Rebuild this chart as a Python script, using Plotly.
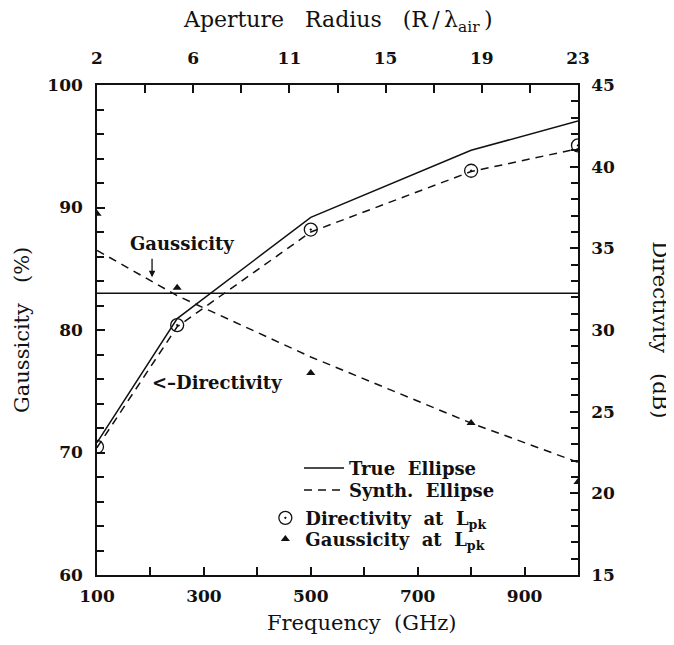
import plotly.graph_objects as go

# Frequency sample points (GHz)
freq = [100, 250, 500, 800, 1000]

# Directivity (dB, right axis)
dir_true = [23.1, 30.7, 36.9, 41.0, 42.8]
dir_synth = [22.8, 30.2, 36.0, 39.7, 41.1]
dir_lpk = [22.85, 30.3, 36.15, 39.75, 41.3]

# Gaussicity (%, left axis)
gauss_true = [83.0, 83.0, 83.0, 83.0, 83.0]
gauss_synth = [86.5, 82.8, 77.8, 72.4, 69.2]
gauss_lpk = [89.5, 83.45, 76.5, 72.4, 67.6]

# top axis: aperture radius labels and the frequencies where they sit
radius_labels = ["2", "6", "11", "15", "19", "23"]
radius_freq = [100, 280, 460, 640, 820, 1000]

FONT = "DejaVu Serif"
INK = "#111111"
SP = "\u00a0\u00a0"
SP3 = "\u00a0\u00a0\u00a0"

fig = go.Figure()

# Gaussicity lines
fig.add_trace(go.Scatter(
    x=freq, y=gauss_true, mode="lines",
    line=dict(color=INK, width=1.5),
    name="True" + SP + "Ellipse", legend="legend",
))
fig.add_trace(go.Scatter(
    x=freq, y=gauss_synth, mode="lines",
    line=dict(color=INK, width=1.5, dash="8px,6px"),
    name="Synth." + SP + "Ellipse", legend="legend2",
))
# Directivity lines on the right axis
fig.add_trace(go.Scatter(
    x=freq, y=dir_true, mode="lines", yaxis="y2",
    line=dict(color=INK, width=1.5),
    showlegend=False,
))
fig.add_trace(go.Scatter(
    x=freq, y=dir_synth, mode="lines", yaxis="y2",
    line=dict(color=INK, width=1.5, dash="8px,6px"),
    showlegend=False,
))
# markers at L_pk
fig.add_trace(go.Scatter(
    x=freq, y=dir_lpk, mode="markers", yaxis="y2",
    marker=dict(symbol="circle-open-dot", size=13, color=INK,
                line=dict(color=INK, width=1.3)),
    name="Directivity" + SP + "at" + SP + "L<sub>pk</sub>", legend="legend3",
))
fig.add_trace(go.Scatter(
    x=freq, y=gauss_lpk, mode="markers",
    marker=dict(symbol="triangle-up", size=8, color=INK),
    name="Gaussicity" + SP + "at" + SP + "L<sub>pk</sub>", legend="legend4",
))
# dummy trace to activate the top axis
fig.add_trace(go.Scatter(
    x=radius_freq, y=[None] * len(radius_freq), xaxis="x2",
    mode="markers", showlegend=False, hoverinfo="skip",
))

tickfont = dict(family=FONT, size=17, color=INK, weight="bold")
titlefont = dict(family=FONT, size=21, color=INK)
labelfont = dict(family=FONT, size=18, color=INK, weight="bold")
axline = dict(showline=True, linecolor=INK, linewidth=1.5, mirror=False,
              showgrid=False, zeroline=False, ticks="inside", ticklen=8,
              tickcolor=INK, tickwidth=1.5, tickfont=tickfont,
              automargin=False)
legfont = dict(family=FONT, size=18, color=INK, weight="bold")


def leg(x, y, w):
    return dict(x=x, y=y, xanchor="left", yanchor="middle",
                bgcolor="rgba(0,0,0,0)", font=legfont, itemwidth=w)


fig.update_layout(
    width=666, height=637,
    paper_bgcolor="white", plot_bgcolor="white",
    margin=dict(l=89, r=96, t=77, b=70),
    font=dict(family=FONT, color=INK),
    xaxis=dict(
        range=[100, 1000], tickvals=[100, 300, 500, 700, 900],
        minor=dict(ticks="inside", tick0=100, dtick=100, ticklen=8,
                   tickcolor=INK, tickwidth=1.5),
        ticklabelstandoff=5,
        **axline,
    ),
    xaxis2=dict(
        range=[100, 1000], overlaying="x", side="top",
        tickvals=radius_freq, ticktext=radius_labels,
        minor=dict(ticks="inside", tick0=100, dtick=90, ticklen=8,
                   tickcolor=INK, tickwidth=1.5),
        ticklabelstandoff=12,
        **axline,
    ),
    yaxis=dict(
        range=[60, 100], tickvals=[60, 70, 80, 90, 100],
        minor=dict(ticks="inside", dtick=2, ticklen=7,
                   tickcolor=INK, tickwidth=1.5),
        ticklabelstandoff=9,
        **axline,
    ),
    yaxis2=dict(
        range=[15, 45], overlaying="y", side="right",
        tickvals=[15, 20, 25, 30, 35, 40, 45],
        minor=dict(ticks="inside", dtick=1, ticklen=7,
                   tickcolor=INK, tickwidth=1.5),
        ticklabelstandoff=8,
        **axline,
    ),
    showlegend=True,
    legend=leg(0.42, 0.218, 40),
    legend2=leg(0.42, 0.173, 40),
    legend3=leg(0.35, 0.116, 30),
    legend4=leg(0.35, 0.073, 30),
    annotations=[
        dict(text="Aperture" + SP3 + "Radius" + SP3
             + "(R\u2009/\u2009λ<sub>air</sub>\u2009)",
             xref="paper", yref="paper", x=0.5, y=1.129,
             xanchor="center", yanchor="middle", showarrow=False,
             font=dict(family=FONT, size=22, color=INK)),
        dict(text="Frequency" + SP + "(GHz)", xref="paper", yref="paper",
             x=0.55, y=-0.098, xanchor="center", yanchor="middle",
             showarrow=False, font=titlefont),
        dict(text="Gaussicity" + SP3 + "(%)", xref="paper", yref="paper",
             x=-0.156, y=0.5, xanchor="center", yanchor="middle",
             textangle=-90, showarrow=False, font=titlefont),
        dict(text="Directivity" + SP3 + "(dB)", xref="paper", yref="paper",
             x=1.17, y=0.5, xanchor="center", yanchor="middle",
             textangle=90, showarrow=False, font=titlefont),
        dict(text="Gaussicity", x=259, y=87.1, showarrow=False,
             font=labelfont),
        dict(text="", x=203, y=84.3, ax=0, ay=-20, showarrow=True,
             arrowhead=2, arrowsize=1, arrowwidth=1.3, arrowcolor=INK),
        dict(text="<–Directivity", x=324, y=75.7, showarrow=False,
             font=labelfont),
    ],
)

fig.write_html("out.html")
